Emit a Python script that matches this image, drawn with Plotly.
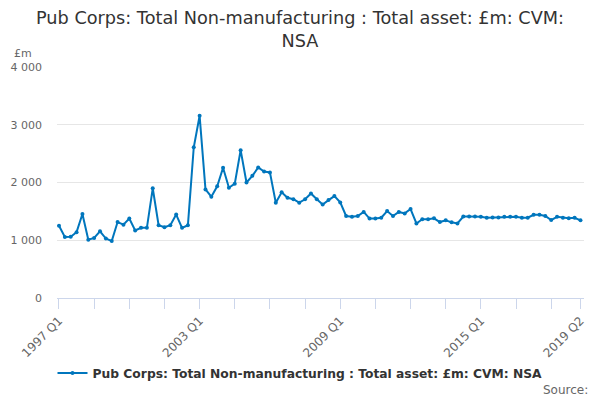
import plotly.graph_objects as go

years = list(range(1997, 2020))
quarters = [f"{y} Q{q}" for y in years for q in range(1, 5)][:90]

values = [
    1250, 1055, 1060, 1140,
    1455, 1010, 1040, 1155,
    1030, 985, 1315, 1270,
    1375, 1170, 1215, 1215,
    1900, 1260, 1225, 1260,
    1445, 1215, 1260, 2610,
    3155, 1880, 1755, 1935,
    2255, 1910, 1980, 2560,
    2000, 2115, 2260, 2190,
    2175, 1650, 1830, 1735,
    1710, 1650, 1710, 1810,
    1710, 1620, 1695, 1765,
    1655, 1420, 1405, 1420,
    1490, 1375, 1375, 1390,
    1505, 1420, 1490, 1465,
    1540, 1290, 1365, 1365,
    1380, 1315, 1345, 1310,
    1290, 1410, 1410, 1410,
    1405, 1390, 1395, 1395,
    1405, 1405, 1405, 1390,
    1390, 1440, 1440, 1420,
    1350, 1405, 1390, 1380,
    1390, 1345,
]

labelled = ["1997 Q1", "2003 Q1", "2009 Q1", "2015 Q1", "2019 Q2"]
series_name = "Pub Corps: Total Non-manufacturing : Total asset: £m: CVM: NSA"

idx = list(range(len(quarters)))
tick_pos = list(range(0, len(quarters), 6)) + [len(quarters) - 1]
tick_txt = [quarters[i] if quarters[i] in labelled else "" for i in tick_pos]

fig = go.Figure()
fig.add_trace(go.Scatter(
    x=idx, y=values, mode="lines+markers", name=series_name,
    text=quarters,
    line=dict(color="#0076bd", width=2),
    marker=dict(color="#0076bd", size=4),
))

fig.update_layout(
    width=600, height=400,
    paper_bgcolor="white", plot_bgcolor="white",
    margin=dict(l=57, r=16, t=67, b=102, autoexpand=False),
    separators=". ",
    font=dict(family="DejaVu Sans", color="#666666"),
    title=dict(
        text="Pub Corps: Total Non-manufacturing : Total asset: £m: CVM:<br>NSA",
        x=0.5, xanchor="center", xref="container",
        yref="container", y=1 - 24 / 400, yanchor="middle",
        font=dict(size=17.7, color="#333333", family="DejaVu Sans"),
    ),
    showlegend=True,
    legend=dict(
        orientation="h", xref="container", x=0.5, xanchor="center",
        y=-0.325, yanchor="middle",
        itemwidth=30,
        font=dict(size=12.3, color="#333333", family="DejaVu Sans", weight="bold"),
    ),
    xaxis=dict(
        range=[-0.34, 89.6], automargin=False,
        tickmode="array", tickvals=tick_pos, ticktext=tick_txt,
        tickangle=-45, ticks="outside", ticklen=10, tickcolor="#ccd6eb",
        showline=True, linecolor="#ccd6eb", linewidth=1,
        showgrid=False, zeroline=False,
        tickfont=dict(size=12, color="#666666"),
    ),
    yaxis=dict(
        range=[0, 4000], tickvals=[0, 1000, 2000, 3000, 4000], automargin=False,
        tickformat=",d",
        showgrid=True, gridcolor="#e6e6e6", zeroline=False,
        showline=False, ticks="", ticklabelstandoff=14,
        tickfont=dict(size=11, color="#666666"),
    ),
    annotations=[
        dict(text="£m", xref="paper", yref="paper", x=-0.085, y=1.06,
             xanchor="left", yanchor="middle", showarrow=False,
             font=dict(size=11, color="#666666")),
        dict(text="Source:", xref="paper", yref="paper", x=1.011, y=-0.398,
             xanchor="right", yanchor="middle", showarrow=False,
             font=dict(size=12, color="#666666")),
    ],
)

fig.write_html(
    "out.html",
    config={"displayModeBar": False},
    post_script="document.body.style.margin='0';document.body.style.overflow='hidden';",
)
